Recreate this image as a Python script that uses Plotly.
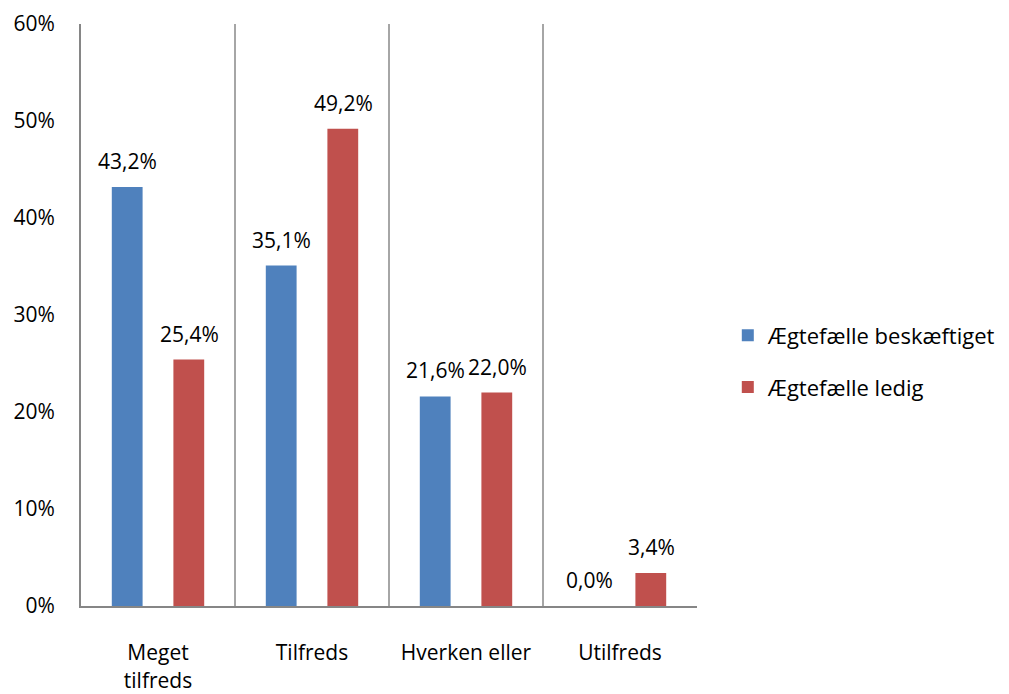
import plotly.graph_objects as go

categories = ["Meget<br>tilfreds", "Tilfreds", "Hverken eller", "Utilfreds"]
beskaeftiget = [43.2, 35.1, 21.6, 0.0]
ledig = [25.4, 49.2, 22.0, 3.4]
series_names = ["Ægtefælle beskæftiget", "Ægtefælle ledig"]
series_colors = ["#4F81BD", "#C0504D"]
y_ticks = [0, 10, 20, 30, 40, 50, 60]
y_tick_labels = ["0%", "10%", "20%", "30%", "40%", "50%", "60%"]

FONT = "Open Sans, Carlito, Calibri, sans-serif"
SIZE = 21

fig = go.Figure()
for i, (name, vals, color) in enumerate(
        zip(series_names, [beskaeftiget, ledig], series_colors)):
    fig.add_trace(go.Bar(
        x=categories, y=vals, name=name,
        marker=dict(color=color, line=dict(width=0)),
        legendgroup=f"g{i}",
    ))

# value labels above each bar, shifted to the bar's slot within the group
annotations = []
for vals, shift in [(beskaeftiget, -31), (ledig, 31)]:
    for cat, v in zip(categories, vals):
        label = f"{v:.1f}".replace(".", ",") + "%"
        annotations.append(dict(
            x=cat, y=v, xref="x", yref="y", text=label, showarrow=False,
            xshift=shift, yshift=10, yanchor="bottom", xanchor="center",
            font=dict(size=SIZE, family=FONT, color="#000000"),
        ))

fig.update_layout(
    width=1009, height=694,
    margin=dict(l=81, r=312, t=24, b=88, autoexpand=False),
    paper_bgcolor="white", plot_bgcolor="white",
    barmode="group", bargap=0.2, bargroupgap=0.5,
    font=dict(family=FONT, size=SIZE, color="#000000"),
    annotations=annotations,
    legend=dict(
        x=1.05, y=0.42, xanchor="left", yanchor="middle",
        font=dict(size=22, family=FONT), tracegroupgap=20,
        bgcolor="rgba(0,0,0,0)",
    ),
    xaxis=dict(
        type="category", tickson="boundaries", automargin=False,
        showgrid=True, gridcolor="#A6A6A6", gridwidth=1.5,
        showline=True, linecolor="#868686", linewidth=2,
        ticks="", ticklabelstandoff=27,
        tickfont=dict(size=SIZE, family=FONT),
        zeroline=False,
    ),
    yaxis=dict(
        range=[0, 60], tickvals=y_ticks, ticktext=y_tick_labels,
        automargin=False,
        showgrid=False, showline=True, linecolor="#868686", linewidth=2,
        ticks="", ticklabelstandoff=20,
        tickfont=dict(size=SIZE, family=FONT),
        zeroline=False,
    ),
)

fig.write_html("out.html")
